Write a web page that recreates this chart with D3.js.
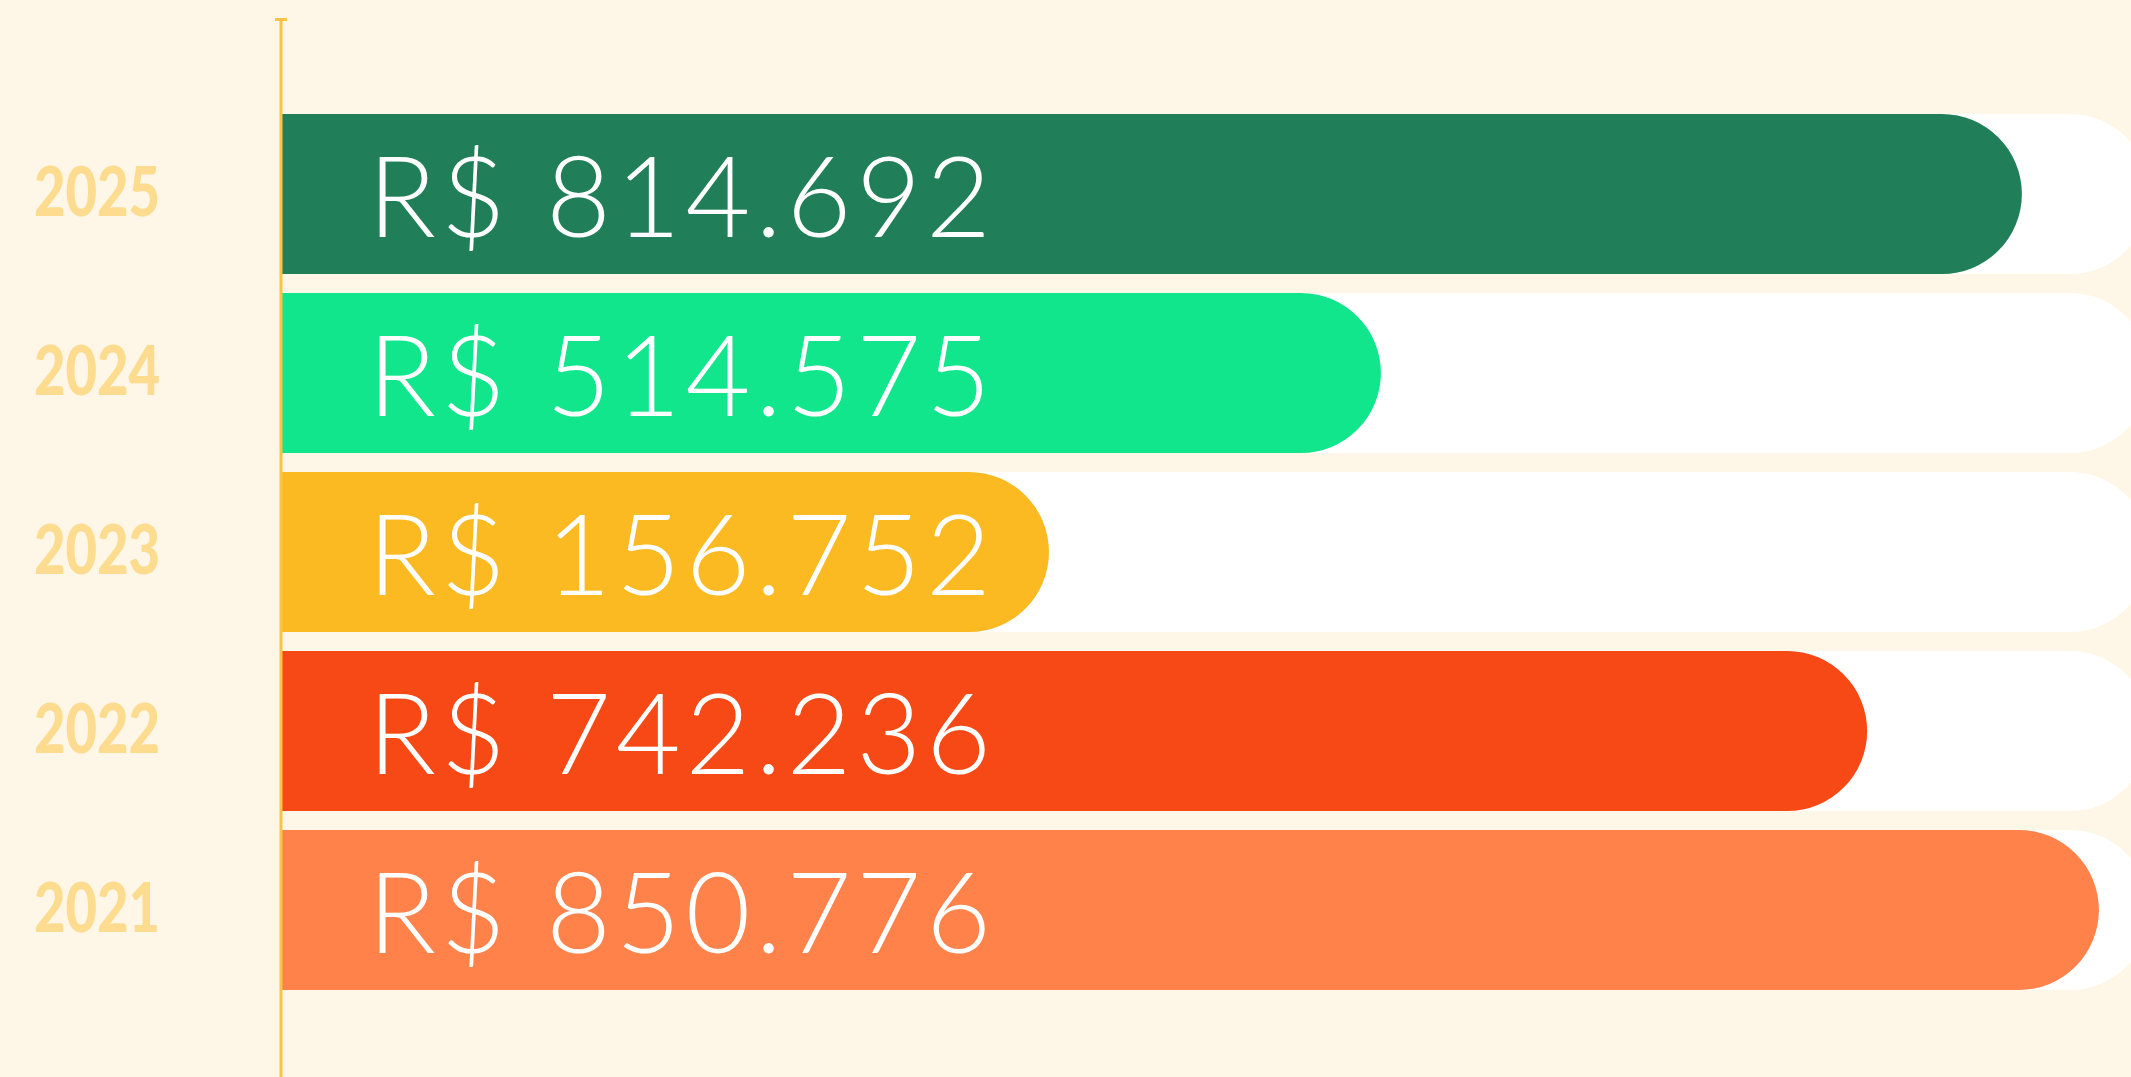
<!DOCTYPE html>
<html>
<head>
<meta charset="utf-8">
<script src="https://cdn.jsdelivr.net/npm/d3@7"></script>
<style>
  html, body { margin: 0; padding: 0; background: #FEF6E7; }
  svg { display: block; }
</style>
</head>
<body>
<div id="chart"></div>
<script>
// dados do gráfico
const years = ["2025", "2024", "2023", "2022", "2021"];
const values = [814692, 514575, 156752, 742236, 850776];
const colors = ["#207E58", "#12E68C", "#FBBA22", "#F64916", "#FF824B"];

const width = 2131;
const height = 1077;
const axisX = 281;
const barLeft = 282;
const trackRight = 2150;
const textX = 368;

const brl = d3.formatLocale({decimal: ",", thousands: ".", grouping: [3], currency: ["R$ ", ""]});
const fmt = brl.format("$,.0f");

const svg = d3.select("#chart").append("svg")
    .attr("width", width)
    .attr("height", height);

svg.append("rect")
    .attr("width", width)
    .attr("height", height)
    .attr("fill", "#FEF6E7");

const y = d3.scaleBand()
    .domain(years)
    .range([114, 990])
    .paddingInner(0.106);

const x = d3.scaleLinear()
    .domain([0, d3.max(values)])
    .range([barLeft, 2099]);

const h = y.bandwidth();
const r = h / 2;

// barra com ponta direita arredondada
function pill(x0, x1, y0) {
    const xe = Math.max(x1 - r, x0);
    return `M${x0},${y0}H${xe}A${r},${r} 0 0 1 ${xe},${y0 + h}H${x0}Z`;
}

const rows = years.map((yr, i) => ({year: yr, value: values[i], color: colors[i]}));

// trilhas brancas
svg.append("g")
    .selectAll("path")
    .data(rows)
    .join("path")
    .attr("d", d => pill(barLeft, trackRight, y(d.year)))
    .attr("fill", "#FFFFFF");

const bars = svg.append("g");
const labels = svg.append("g");

// textos de valor primeiro, para medir
const valueText = labels.selectAll("text")
    .data(rows)
    .join("text")
    .attr("x", textX)
    .attr("y", d => y(d.year) + h / 2 + 43)
    .attr("fill", "#FFFFFF")
    .style("font-family", "Lato, 'Open Sans', sans-serif")
    .style("font-weight", 300)
    .style("font-size", "112px")
    .text(d => fmt(d.value));

// ajuste de espaçamento para a largura do original
const ref = valueText.filter(d => d.year === "2023").node();
const w0 = ref.getComputedTextLength();
const ls = (623 - w0) / 9;
valueText.style("letter-spacing", ls + "px");

bars.selectAll("path")
    .data(rows)
    .join("path")
    .attr("d", function(d, i) {
        const tw = valueText.nodes()[i].getComputedTextLength() - ls;
        const end = Math.max(x(d.value), textX + tw + 58);
        return pill(barLeft, end, y(d.year));
    })
    .attr("fill", d => d.color);

// rótulos dos anos
svg.append("g")
    .selectAll("text")
    .data(rows)
    .join("text")
    .attr("transform", d => `translate(97,${y(d.year) + h / 2 + 22}) scale(0.8,1)`)
    .attr("text-anchor", "middle")
    .attr("fill", "#FDDC8F")
    .style("font-family", "Lato, 'Noto Sans', sans-serif")
    .style("font-weight", 900)
    .style("font-size", "68px")
    .text(d => d.year);

// eixo vertical
svg.append("line")
    .attr("x1", axisX).attr("x2", axisX)
    .attr("y1", 19).attr("y2", height)
    .attr("stroke", "#FBC441")
    .attr("stroke-width", 3);

svg.append("line")
    .attr("x1", axisX - 6).attr("x2", axisX + 6)
    .attr("y1", 19.5).attr("y2", 19.5)
    .attr("stroke", "#FBC441")
    .attr("stroke-width", 3);
</script>
</body>
</html>
